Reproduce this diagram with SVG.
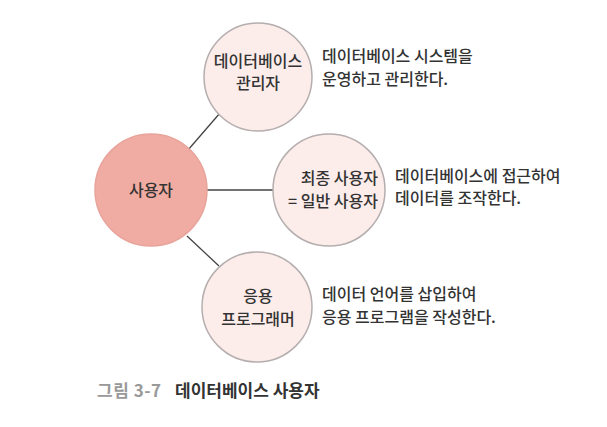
<svg xmlns="http://www.w3.org/2000/svg" width="607" height="427" viewBox="0 0 607 427">
<style>
text{font-family:"Noto Sans CJK KR","Noto Sans",sans-serif;font-size:16px;font-weight:500;fill:#333}
.c{text-anchor:middle}
.node{fill:#fcecea;stroke:#b5aeae;stroke-width:1.5}
.user{fill:#f0aba2;stroke:#e8a49b;stroke-width:1.5}
.edge{stroke:#444;stroke-width:1.3;fill:none}
</style>
<rect width="607" height="427" fill="#fff"/>
<g id="connectors">
<line class="edge" x1="188" y1="150" x2="220" y2="113"/>
<line class="edge" x1="207" y1="190" x2="274" y2="190"/>
<line class="edge" x1="187" y1="236" x2="219" y2="266"/>
</g>
<g id="user">
<circle class="user" cx="151" cy="190" r="56"/>
<text class="c" x="151" y="196">사용자</text>
</g>
<g id="dba">
<circle class="node" cx="258" cy="77" r="54"/>
<text class="c" x="258" y="67">데이터베이스</text>
<text class="c" x="258" y="89">관리자</text>
</g>
<g id="enduser">
<circle class="node" cx="329" cy="190" r="56"/>
<text x="378" y="184" text-anchor="end">최종 사용자</text>
<text x="378" y="207" text-anchor="end">= 일반 사용자</text>
</g>
<g id="programmer">
<circle class="node" cx="257" cy="307" r="55"/>
<text class="c" x="258" y="302">응용</text>
<text class="c" x="258" y="325">프로그래머</text>
</g>
<g id="desc">
<text x="322" y="62">데이터베이스 시스템을</text>
<text x="322" y="85">운영하고 관리한다.</text>
<text x="395" y="182">데이터베이스에 접근하여</text>
<text x="395" y="204">데이터를 조작한다.</text>
<text x="322" y="300">데이터 언어를 삽입하여</text>
<text x="322" y="323">응용 프로그램을 작성한다.</text>
</g>
<g id="caption">
<text x="97" y="397" style="fill:#999;font-weight:bold;font-size:17px;letter-spacing:0.5px">그림 3-7</text>
<text x="175" y="397" style="font-weight:bold;fill:#333;font-size:17px">데이터베이스 사용자</text>
</g>
</svg>
